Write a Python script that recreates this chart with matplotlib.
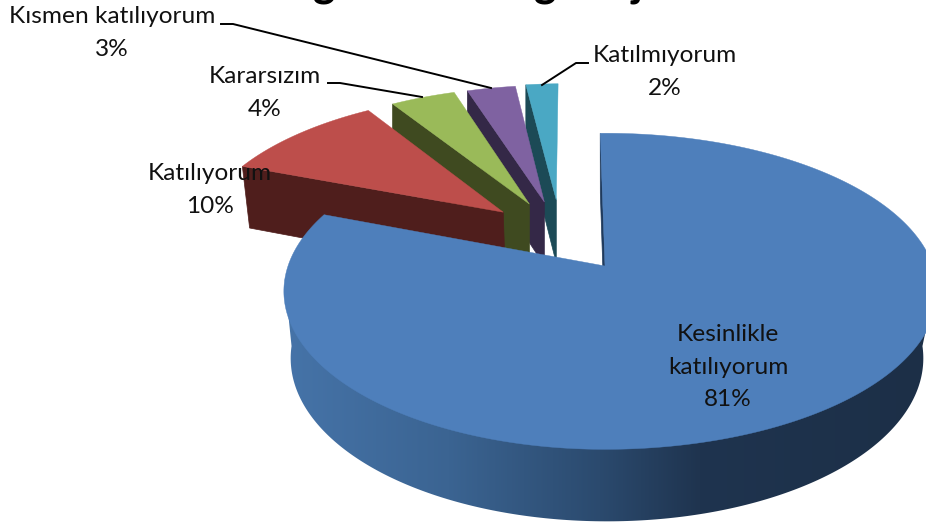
import numpy as np
import matplotlib
matplotlib.use('Agg')
import matplotlib.pyplot as plt
from matplotlib.colors import LinearSegmentedColormap
from matplotlib.patches import Polygon

labels = ['Kesinlikle\nkatılıyorum', 'Katılıyorum', 'Kararsızım', 'Kısmen katılıyorum', 'Katılmıyorum']
values = [81, 10, 4, 3, 2]

top_colors = ['#4e7fbb', '#bd4e4b', '#9aba59', '#7f62a1', '#4aa8c4']
dark_colors = ['#1f3a5c', '#4f1e1c', '#3f4a20', '#342847', '#1c4a56']

# explode offset of every slice on the pie plane (u to the right, v to the back)
offsets = [(0, 0), (-0.34, 0.37), (-0.255, 0.43), (-0.205, 0.445), (-0.165, 0.46)]
# text centres and leader lines, in pixels
label_pos = [(728, 367), (210, 190), (265, 93), (112, 33), (665, 72)]
leaders = [None, None,
           [(328, 83), (340, 83), (422, 97)],
           [(221, 24), (233, 24), (491, 88)],
           [(588, 63), (576, 63), (542, 85)]]

cx, cy = 605, 266
rx, ry = 317, 154
k = 0.16


def project(u, v):
    s = 1 / (1 + k * v)
    return cx + rx * u * s, cy - ry * v * s


def project_bottom(u, v, shrink=0.98, shift=0):
    x, y = project(u, v)
    return cx + shift + (x - cx) * shrink, y + 66 - 6 * v


fig = plt.figure(figsize=(9.26, 5.24), dpi=100)
ax = fig.add_axes([0, 0, 1, 1])

# slices run clockwise from the top
edges = np.radians(np.concatenate([[0], np.cumsum(values)]) * 3.6 - 1)

# shading of the outer wall, left to right across the picture
wall_cmap = LinearSegmentedColormap.from_list('wall', [
    (0.0, '#4674a9'), (0.26, '#3b6492'), (0.495, '#2b4a6e'), (0.65, '#1f344f'), (1.0, '#1c2f47')])

# back to front: small slices first, the big one last
for i in reversed(range(len(values))):
    z = 1 + 0.1 * (len(values) - i)
    du, dv = offsets[i]
    t = np.linspace(edges[i], edges[i + 1], 360)
    u = du + np.sin(t)
    v = dv + np.cos(t)

    if i == 0:
        # right half of the big slice runs a bit wider than the left one
        u = np.where(u > 0, u * 1.035, u)
        # front part only, the chord between its two ends stays under the top face
        front = np.radians(np.linspace(95, 265, 240))
        fu = np.sin(front)
        fv = np.cos(front)
        xt, yt = project(np.where(fu > 0, fu * 1.035, fu), fv)
        xb, yb = project_bottom(fu, fv, 0.985, 2)
        wall = Polygon(np.c_[np.r_[xt[0], xb, xt[-1]], np.r_[yt[0], yb, yt[-1]]],
                       transform=ax.transData)
        im = ax.imshow(np.linspace(0, 1, 256)[None, :], cmap=wall_cmap, extent=(280, 926, 524, 0),
                       aspect='auto', zorder=z)
        im.set_clip_path(wall)

    # radial wall on the start edge
    shrink = 0.98 if i < 2 else 1.0
    ox, oy = project(u[0], v[0])
    ax_, ay_ = project(du, dv)
    bx, by = project_bottom(u[0], v[0], shrink)
    abx, aby = project_bottom(du, dv, shrink)
    ax.fill([ox, ax_, abx, bx], [oy, ay_, aby, by], color=dark_colors[i], lw=0.5, zorder=z)

    # top face
    x, y = project(np.r_[du, u], np.r_[dv, v])
    ax.fill(x, y, color=top_colors[i], lw=0.3, zorder=z + 0.05)

for lab, val, pos, lead in zip(labels, values, label_pos, leaders):
    ax.text(pos[0], pos[1], f'{lab}\n{val}%', ha='center', va='center', family='Lato',
            fontsize=17.6, color='#111111', linespacing=1.68, zorder=5)
    if lead:
        ax.plot(*zip(*lead), color='black', lw=1.4, zorder=4, solid_joinstyle='round')

# the title is cut by the top edge, only these descenders show
for letter, xpos in zip('ggj', [324, 545, 637]):
    ax.text(xpos, -3, letter, ha='center', va='baseline', family='Lato', weight='bold',
            fontsize=31, color='black', zorder=5)

ax.set_xlim(0, 926)
ax.set_ylim(524, 0)
ax.axis('off')
fig.savefig('out.png', dpi=100)
